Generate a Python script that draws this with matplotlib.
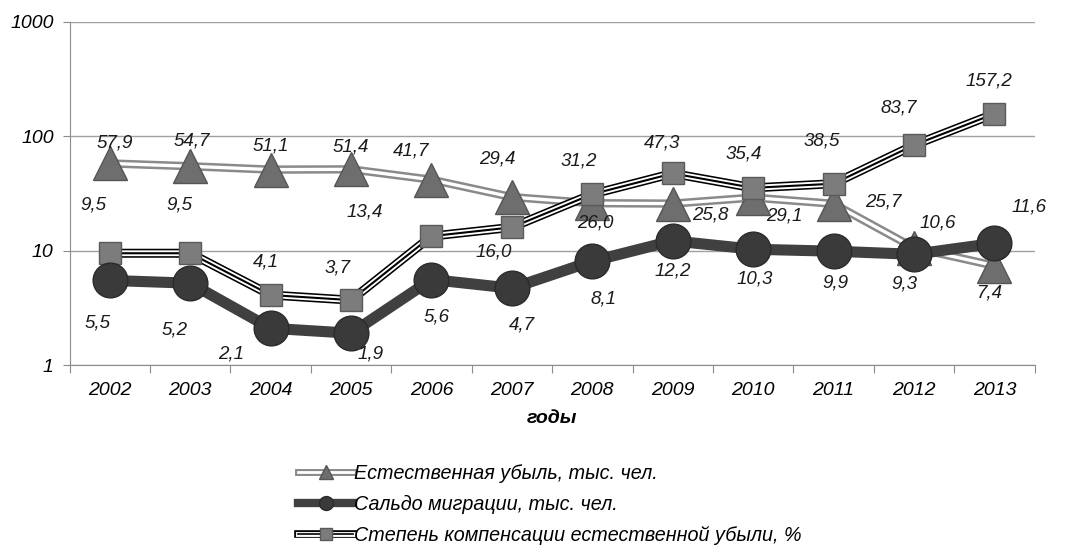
import numpy as np
import matplotlib
matplotlib.use("Agg")
import matplotlib.pyplot as plt
from matplotlib.lines import Line2D

plt.rcParams['font.family'] = ['Liberation Sans', 'DejaVu Sans']

years = ['2002', '2003', '2004', '2005', '2006', '2007', '2008', '2009', '2010', '2011', '2012', '2013']
loss = [57.9, 54.7, 51.1, 51.4, 41.7, 29.4, 26.0, 25.8, 29.1, 25.7, 10.6, 7.4]
migration = [5.5, 5.2, 2.1, 1.9, 5.6, 4.7, 8.1, 12.2, 10.3, 9.9, 9.3, 11.6]
compensation = [9.5, 9.5, 4.1, 3.7, 13.4, 16.0, 31.2, 47.3, 35.4, 38.5, 83.7, 157.2]

series_names = ['Естественная убыль, тыс. чел.',
                'Сальдо миграции, тыс. чел.',
                'Степень компенсации естественной убыли, %']

# label offsets in pixels (dx, dy up)
loss_off = [(5, 20), (2, 25), (0, 24), (0, 22), (-20, 29), (-15, 38),
            (3, -20), (38, -11), (31, -18), (50, 2), (24, 25), (-5, -27)]
mig_off = [(-12, -43), (-16, -47), (-40, -26), (19, -21), (5, -37), (10, -37),
           (11, -38), (0, -30), (2, -30), (2, -32), (-10, -30), (35, 36)]
comp_off = [(-16, 48), (-11, 48), (-5, 33), (-14, 32), (-67, 24), (-18, -25),
            (-14, 33), (-11, 30), (-9, 34), (-12, 43), (-15, 37), (-5, 33)]

x = np.arange(len(years))

fig = plt.figure(figsize=(10.71, 5.45), dpi=100)
ax = fig.add_axes([0.065, 0.330, 0.901, 0.630])
ax.set_yscale('log')
ax.set_ylim(1, 1000)
ax.set_xlim(-0.5, len(years) - 0.5)

gcol = '#8c8c8c'
ax.grid(axis='y', which='major', color='#a0a0a0', lw=1)
ax.set_axisbelow(True)
for s in ['top', 'right']:
    ax.spines[s].set_visible(False)
for s in ['left', 'bottom']:
    ax.spines[s].set_color(gcol)

# natural loss: gray double line
ax.plot(x, loss, color='#8a8a8a', lw=6, solid_joinstyle='miter', zorder=2)
ax.plot(x, loss, color='white', lw=2.4, zorder=2.1)
ax.plot(x, loss, ls='none', marker='^', ms=25, mfc='#6e6e6e', mec='#555555', mew=1, zorder=2.2)

# compensation: black/white striped line
ax.plot(x, compensation, color='black', lw=6.5, zorder=3)
ax.plot(x, compensation, color='white', lw=4.2, zorder=3.1)
ax.plot(x, compensation, color='black', lw=1.5, zorder=3.2)
ax.plot(x, compensation, ls='none', marker='s', ms=16, mfc='#7c7c7c', mec='#5a5a5a', mew=1, zorder=3.3)

# migration: thick dark line
ax.plot(x, migration, color='#404040', lw=8, zorder=4)
ax.plot(x, migration, ls='none', marker='o', ms=25, mfc='#3a3a3a', mec='#2a2a2a', mew=1, zorder=4.1)

fs = 13.5
for vals, offs in [(loss, loss_off), (migration, mig_off), (compensation, comp_off)]:
    for xi, v, (dx, dy) in zip(x, vals, offs):
        ax.annotate(f'{v:.1f}'.replace('.', ','), (xi, v), xytext=(dx, dy),
                    textcoords='offset pixels', ha='center', va='center',
                    fontsize=fs, style='italic', color='#1a1a1a', zorder=10)

ax.set_yticks([1, 10, 100, 1000])
ax.set_yticklabels(['1', '10', '100', '1000'], fontsize=14, style='italic')
ax.yaxis.set_minor_locator(matplotlib.ticker.NullLocator())
ax.tick_params(axis='y', length=5, color=gcol, pad=6.5)

ax.set_xticks(np.arange(-0.5, len(years), 1))
ax.set_xticklabels([])
ax.set_xticks(x, minor=True)
ax.set_xticklabels(years, minor=True, fontsize=14, style='italic')
ax.tick_params(axis='x', which='major', length=6, color=gcol)
ax.tick_params(axis='x', which='minor', length=0, pad=12)

ax.set_xlabel('годы', fontsize=14, style='italic', fontweight='bold', labelpad=8)

h1 = (Line2D([], [], color='#8a8a8a', lw=5), Line2D([], [], color='white', lw=2),
      Line2D([], [], ls='none', marker='^', ms=10, mfc='#6e6e6e', mec='#555555'))
h2 = (Line2D([], [], color='#404040', lw=6),
      Line2D([], [], ls='none', marker='o', ms=10, mfc='#3a3a3a', mec='#2a2a2a'))
h3 = (Line2D([], [], color='black', lw=5.5), Line2D([], [], color='white', lw=3.5),
      Line2D([], [], color='black', lw=1.2),
      Line2D([], [], ls='none', marker='s', ms=9, mfc='#7c7c7c', mec='#5a5a5a'))
leg = fig.legend([h1, h2, h3], series_names, loc='upper left',
                 bbox_to_anchor=(0.269, 0.166), frameon=False, handlelength=2.8,
                 handletextpad=0.05, labelspacing=0.6, borderpad=0,
                 prop={'size': 14.2, 'style': 'italic'})

fig.savefig('out.png', dpi=100)
